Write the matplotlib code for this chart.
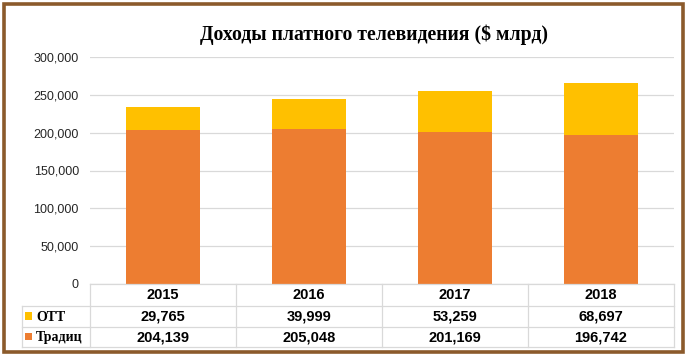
import matplotlib.pyplot as plt
from matplotlib.patches import Rectangle
from matplotlib.lines import Line2D

years = ['2015', '2016', '2017', '2018']
ott = [29765, 39999, 53259, 68697]
trad = [204139, 205048, 201169, 196742]
series_names = ['OTT', 'Традиц']
colors = ['#FFC000', '#ED7D31']

W, H = 687, 356
fig = plt.figure(figsize=(W / 100, H / 100), dpi=100)

# helper: pixel -> figure coords
def fx(px):
    return px / W

def fy(py):
    return 1 - py / H

x0, x1 = 90, 674
ax = fig.add_axes([fx(x0), fy(284), fx(x1) - fx(x0), fy(57) - fy(284)])
xs = range(len(years))
ax.bar(xs, trad, width=0.51, color=colors[1], zorder=2)
ax.bar(xs, ott, width=0.51, bottom=trad, color=colors[0], zorder=2)
ax.set_xlim(-0.5, len(years) - 0.5)
ax.set_ylim(0, 300000)
ax.set_yticks(range(0, 300001, 50000))
ax.set_yticklabels([f'{v:,}' for v in range(0, 300001, 50000)],
                   fontfamily='Liberation Sans', fontsize=9, color='#262626')
ax.tick_params(axis='y', length=0, pad=8)
ax.set_xticks([])
ax.grid(axis='y', color='#D9D9D9', linewidth=0.9, zorder=0)
for s in ax.spines.values():
    s.set_visible(False)

fig.text(fx(374), fy(35), 'Доходы платного телевидения ($ млрд)',
         ha='center', va='center', fontfamily='Liberation Serif',
         fontweight='bold', fontsize=14.2)

# table under the chart
lc = '#D9D9D9'
rows_y = [284, 306, 327, 347]
col_w = (x1 - x0) / len(years)
lines = []
lines.append(((x0, x1), (rows_y[0], rows_y[0])))
for yy in rows_y[1:]:
    lines.append(((22, x1), (yy, yy)))
lines.append(((22, 22), (rows_y[1], rows_y[3])))
for i in range(len(years) + 1):
    xx = x0 + i * col_w
    lines.append(((xx, xx), (rows_y[0], rows_y[3])))
for (lx, ly) in lines:
    fig.add_artist(Line2D([fx(lx[0]), fx(lx[1])], [fy(ly[0]), fy(ly[1])],
                          color=lc, linewidth=0.9))

cell_font = dict(fontfamily='Liberation Sans', fontweight='bold', fontsize=10.5,
                 ha='center', va='center')
for i, yr in enumerate(years):
    cx = fx(x0 + (i + 0.5) * col_w)
    fig.text(cx, fy((rows_y[0] + rows_y[1]) / 2), yr, **cell_font)
    fig.text(cx, fy((rows_y[1] + rows_y[2]) / 2), f'{ott[i]:,}', **cell_font)
    fig.text(cx, fy((rows_y[2] + rows_y[3]) / 2), f'{trad[i]:,}', **cell_font)

for r, (name, c) in enumerate(zip(series_names, colors)):
    yc = (rows_y[r + 1] + rows_y[r + 2]) / 2
    fig.add_artist(Rectangle((fx(25), fy(yc + 3)), fx(7), fy(yc - 4) - fy(yc + 3),
                             facecolor=c, edgecolor='none'))
    fig.text(fx(36), fy(yc + 1), name, ha='left', va='center',
             fontfamily='Liberation Serif', fontweight='bold', fontsize=10)

# brown frame
fig.add_artist(Rectangle((fx(4), fy(352)), fx(679), fy(4) - fy(352),
                         facecolor='none', edgecolor='#8B5A2B', linewidth=2.6))

fig.savefig('out.png', dpi=100)
